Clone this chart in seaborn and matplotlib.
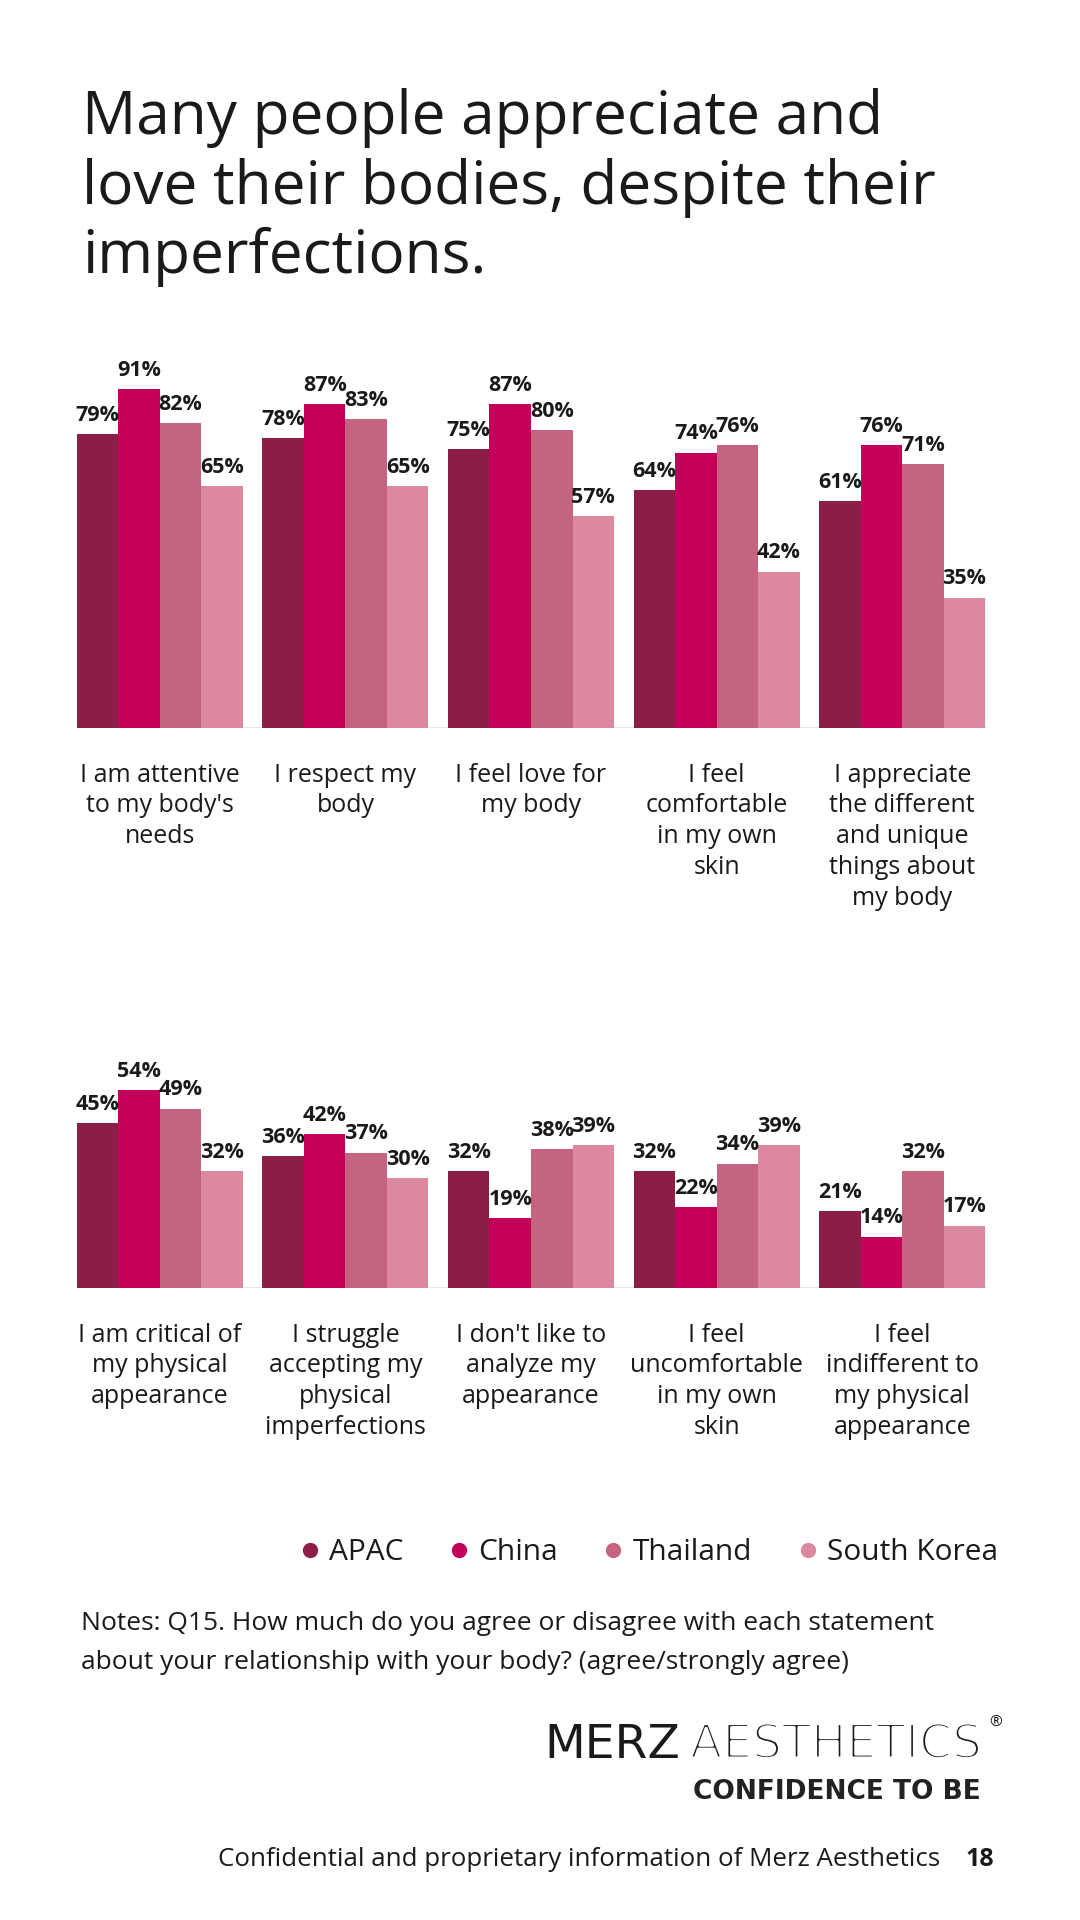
import pandas as pd
import matplotlib.pyplot as plt
import matplotlib.patheffects as pe
import seaborn as sns
from matplotlib.lines import Line2D

# %% Data
regions = ["APAC", "China", "Thailand", "South Korea"]
colors = ["#8A1E46", "#C5005A", "#C46480", "#DC89A0"]

positive_statements = [
    "I am attentive\nto my body's\nneeds",
    "I respect my\nbody",
    "I feel love for\nmy body",
    "I feel\ncomfortable\nin my own\nskin",
    "I appreciate\nthe different\nand unique\nthings about\nmy body",
]
positive_apac = [79, 78, 75, 64, 61]
positive_china = [91, 87, 87, 74, 76]
positive_thailand = [82, 83, 80, 76, 71]
positive_korea = [65, 65, 57, 42, 35]

negative_statements = [
    "I am critical of\nmy physical\nappearance",
    "I struggle\naccepting my\nphysical\nimperfections",
    "I don't like to\nanalyze my\nappearance",
    "I feel\nuncomfortable\nin my own\nskin",
    "I feel\nindifferent to\nmy physical\nappearance",
]
negative_apac = [45, 36, 32, 32, 21]
negative_china = [54, 42, 19, 22, 14]
negative_thailand = [49, 37, 38, 34, 32]
negative_korea = [32, 30, 39, 39, 17]

title_lines = ["Many people appreciate and",
               "love their bodies, despite their",
               "imperfections."]
notes = ("Notes: Q15. How much do you agree or disagree with each statement\n"
         "about your relationship with your body? (agree/strongly agree)")


def to_long(statements, *series):
    rows = []
    for region, vals in zip(regions, series):
        for s, v in zip(statements, vals):
            rows.append({"statement": s, "region": region, "value": v})
    return pd.DataFrame(rows)


df_pos = to_long(positive_statements, positive_apac, positive_china,
                 positive_thailand, positive_korea)
df_neg = to_long(negative_statements, negative_apac, negative_china,
                 negative_thailand, negative_korea)

# %% Style
sns.set_theme(style="white")
plt.rcParams["font.family"] = ["Open Sans", "Lato", "DejaVu Sans"]
TXT = "#1a1a1a"

fig = plt.figure(figsize=(10.8, 19.2), dpi=100)
W, H = 1080, 1920

ax1 = fig.add_axes([67 / W, 1 - 728 / H, 928 / W, 372 / H])
ax2 = fig.add_axes([67 / W, 1 - 1288 / H, 928 / W, 366 / H])

for ax, df in [(ax1, df_pos), (ax2, df_neg)]:
    sns.barplot(data=df, x="statement", y="value", hue="region",
                palette=colors, width=0.895, saturation=1, linewidth=0,
                legend=False, ax=ax)
    for cont in ax.containers:
        ax.bar_label(cont, fmt="{:.0f}%", padding=6, fontsize=15.5,
                     fontweight="bold", color=TXT)
    ax.axhline(0, xmin=0.01, xmax=0.99, color="#e1e6ec", lw=2, zorder=0)
    ax.set_ylim(0, 100)
    ax.set_xlim(-0.5, 4.5)
    ax.set_xlabel("")
    ax.set_ylabel("")
    ax.set_yticks([])
    sns.despine(ax=ax, left=True, bottom=True)
    ax.tick_params(axis="x", length=0, pad=25, labelsize=18, labelcolor=TXT)
    for lab in ax.get_xticklabels():
        lab.set_linespacing(1.3)
    ax.set_facecolor("none")

# %% Title
for i, line in enumerate(title_lines):
    fig.text(82 / W, 1 - (134 + 69.5 * i) / H, line, fontsize=43.5,
             color=TXT, va="baseline", ha="left")

# %% Legend
handles = [Line2D([], [], marker="o", ls="", color=c, markersize=10)
           for c in colors]
fig.legend(handles, regions, loc="center right",
           bbox_to_anchor=(998 / W, 1 - 1553 / H), ncol=4, frameon=False,
           fontsize=21.5, handletextpad=0.25, columnspacing=1.45,
           handlelength=0.8, borderpad=0, borderaxespad=0, labelcolor=TXT)

# %% Notes and footer
fig.text(81 / W, 1 - 1643 / H, notes, fontsize=19, color=TXT,
         va="center", ha="left", linespacing=1.7)

fig.text(544 / W, 1 - 1758 / H, "MERZ", fontsize=34, color=TXT,
         family="DejaVu Sans", va="baseline", ha="left")
# thin look for the second word: erode the glyphs with a white outline
fig.text(690 / W, 1 - 1758 / H, "AESTHETICS", fontsize=34, color=TXT,
         family="DejaVu Sans", va="baseline", ha="left",
         path_effects=[pe.Stroke(linewidth=2.2, foreground="white")])
fig.text(989 / W, 1 - 1726 / H, "®", fontsize=11, color=TXT,
         va="baseline", ha="left")
fig.text(981 / W, 1 - 1792 / H, "CONFIDENCE TO BE", fontsize=19,
         fontweight="bold", family="DejaVu Sans", color="#222222",
         va="center", ha="right")

fig.text(940 / W, 1 - 1860 / H,
         "Confidential and proprietary information of Merz Aesthetics",
         fontsize=18.6, color=TXT, va="center", ha="right")
fig.text(994 / W, 1 - 1860 / H, "18", fontsize=18, fontweight="bold",
         color=TXT, va="center", ha="right")

fig.savefig("out.png", dpi=100, facecolor="white")
